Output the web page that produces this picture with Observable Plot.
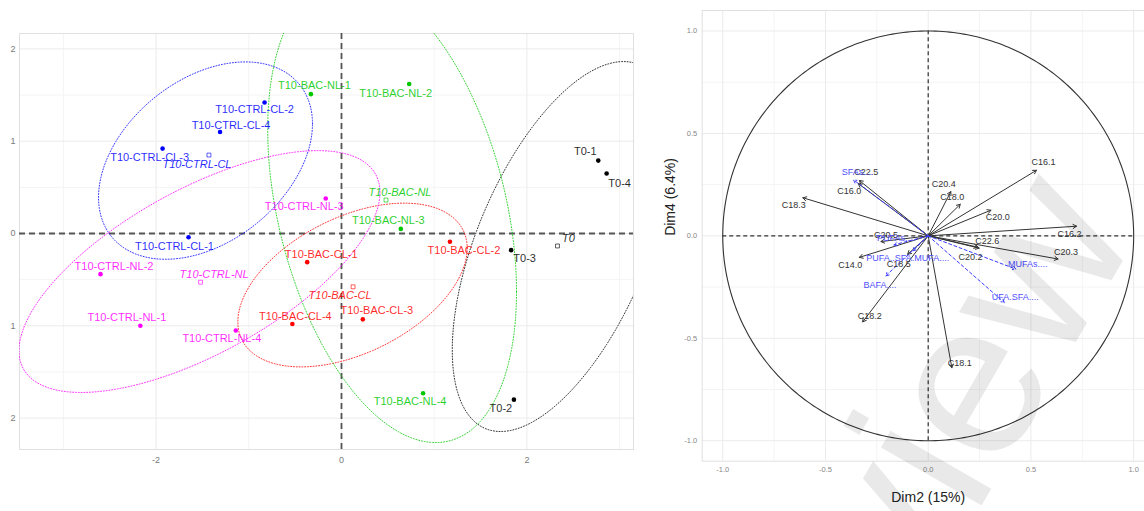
<!DOCTYPE html>
<html>
<head>
<meta charset="utf-8">
<script src="https://cdn.jsdelivr.net/npm/d3@7"></script>
<script src="https://cdn.jsdelivr.net/npm/@observablehq/plot@0.6"></script>
<style>
  html, body { margin: 0; padding: 0; background: #fff; overflow: hidden; }
  #wrap { position: relative; width: 1144px; height: 511px; overflow: hidden;
          font-family: "Liberation Sans", Arial, sans-serif; }
  #ind { position: absolute; left: 0; top: 0; width: 640px; height: 475px; }
  #var { position: absolute; left: 660px; top: 0; width: 500px; height: 511px; }
  #ind svg, #var svg { max-width: none !important; }
  #mark { position: absolute; left: 0; top: 0; pointer-events: none; }
</style>
</head>
<body>
<div id="wrap">
  <div id="ind"></div>
  <div id="var"></div>
  <svg id="mark" width="1144" height="511"></svg>
</div>
<script>
// ---------- Individuals map ----------
const groups = ["T0", "T10-BAC-CL", "T10-BAC-NL", "T10-CTRL-CL", "T10-CTRL-NL"];
const groupColors = ["#000000", "#FF0000", "#00C800", "#0000FF", "#FF00FF"];

const sampleNames = [
  "T0-1", "T0-2", "T0-3", "T0-4",
  "T10-BAC-CL-1", "T10-BAC-CL-2", "T10-BAC-CL-3", "T10-BAC-CL-4",
  "T10-BAC-NL-1", "T10-BAC-NL-2", "T10-BAC-NL-3", "T10-BAC-NL-4",
  "T10-CTRL-CL-1", "T10-CTRL-CL-2", "T10-CTRL-CL-3", "T10-CTRL-CL-4",
  "T10-CTRL-NL-1", "T10-CTRL-NL-2", "T10-CTRL-NL-3", "T10-CTRL-NL-4"
];
const sampleGroups = [
  "T0", "T0", "T0", "T0",
  "T10-BAC-CL", "T10-BAC-CL", "T10-BAC-CL", "T10-BAC-CL",
  "T10-BAC-NL", "T10-BAC-NL", "T10-BAC-NL", "T10-BAC-NL",
  "T10-CTRL-CL", "T10-CTRL-CL", "T10-CTRL-CL", "T10-CTRL-CL",
  "T10-CTRL-NL", "T10-CTRL-NL", "T10-CTRL-NL", "T10-CTRL-NL"
];
const sampleX = [2.77, 1.86, 1.83, 2.86, -0.37, 1.17, 0.23, -0.53, -0.33, 0.73, 0.64, 0.88,
                 -1.65, -0.83, -1.93, -1.31, -2.17, -2.60, -0.17, -1.14];
const sampleY = [0.79, -1.80, -0.18, 0.65, -0.31, -0.09, -0.93, -0.98, 1.51, 1.62, 0.05, -1.73,
                 -0.04, 1.42, 0.92, 1.10, -1.00, -0.44, 0.38, -1.05];

// concentration ellipses per group: centre, spreads and correlation
const ellipseCx  = [2.379, 0.119, 0.546, -1.467, -1.532];
const ellipseCy  = [-0.141, -0.558, 0.249, 0.79, -0.412];
const ellipseSx  = [1.184, 1.237, 1.342, 1.154, 1.947];
const ellipseSy  = [2.004, 0.887, 2.514, 1.069, 1.31];
const ellipseRho = [0.56, 0.45, -0.35, 0.373, 0.655];

const xTicksInd = [-2, 0, 2];
const yTicksInd = [-2, -1, 0, 1, 2];

// label placement (pixel nudges from each point)
const labelNudge = {
  "T0-1": [-13, -9], "T0-2": [-13, 8.5], "T0-3": [13.5, 8.5], "T0-4": [13, 9.5],
  "T10-BAC-CL-1": [14, -8], "T10-BAC-CL-2": [14, 8.5], "T10-BAC-CL-3": [14, -8.5], "T10-BAC-CL-4": [3, -8],
  "T10-BAC-NL-1": [3.5, -8.5], "T10-BAC-NL-2": [-13.5, 9], "T10-BAC-NL-3": [-12.5, -8.5], "T10-BAC-NL-4": [-13, 8.5],
  "T10-CTRL-CL-1": [-14, 9], "T10-CTRL-CL-2": [-10, 7.5], "T10-CTRL-CL-3": [-13, 8.5], "T10-CTRL-CL-4": [11, -7],
  "T10-CTRL-NL-1": [-13.5, -8.5], "T10-CTRL-NL-2": [13.5, -7.5], "T10-CTRL-NL-3": [-21.5, 8.5], "T10-CTRL-NL-4": [-14, 8.5],
  "T0": [11, -8], "T10-BAC-CL": [-13, 8.5], "T10-BAC-NL": [14, -8], "T10-CTRL-CL": [-12, 9], "T10-CTRL-NL": [13.5, -7.5]
};

const samples = sampleNames.map((name, i) => ({name, group: sampleGroups[i], x: sampleX[i], y: sampleY[i]}));
const centroids = groups.map(g => {
  const pts = samples.filter(d => d.group === g);
  return {name: g, group: g, x: d3.mean(pts, d => d.x), y: d3.mean(pts, d => d.y)};
});

const steps = d3.range(0, 361, 1);
const ellipsePts = groups.flatMap((g, i) => steps.map(a => {
  const t = a * Math.PI / 180;
  const r = ellipseRho[i];
  return {
    group: g,
    x: ellipseCx[i] + ellipseSx[i] * Math.cos(t),
    y: ellipseCy[i] + ellipseSy[i] * (r * Math.cos(t) + Math.sqrt(1 - r * r) * Math.sin(t))
  };
}));

const font = "'Liberation Sans', Arial, sans-serif";

const labelMarks = samples.concat(centroids).map(d => Plot.text([d], {
  x: "x", y: "y", text: "name", fill: "group", fillOpacity: 0.85,
  dx: labelNudge[d.name][0], dy: labelNudge[d.name][1],
  fontSize: 11, fontStyle: centroids.includes(d) ? "italic" : "normal"
}));

const ind = Plot.plot({
  width: 640, height: 475,
  marginLeft: 19, marginRight: 7, marginTop: 33, marginBottom: 26,
  x: {domain: [-3.4736, 3.150]},
  y: {domain: [-2.340, 2.167]},
  color: {domain: groups, range: groupColors},
  style: {fontFamily: font, background: "white"},
  marks: [
    Plot.gridX([-3, -1, 1, 3], {stroke: "#f4f4f4", strokeOpacity: 1}),
    Plot.gridY([-1.5, -0.5, 0.5, 1.5], {stroke: "#f4f4f4", strokeOpacity: 1}),
    Plot.gridX(xTicksInd, {stroke: "#ebebeb", strokeOpacity: 1}),
    Plot.gridY(yTicksInd, {stroke: "#ebebeb", strokeOpacity: 1}),
    Plot.frame({stroke: "#e0e0e0"}),
    Plot.ruleX([0], {stroke: "#555", strokeWidth: 1.8, strokeDasharray: "6,4"}),
    Plot.ruleY([0], {stroke: "#555", strokeWidth: 1.8, strokeDasharray: "6,4"}),
    Plot.line(ellipsePts, {x: "x", y: "y", z: "group", stroke: "group", strokeWidth: 1,
                           strokeOpacity: 0.8, strokeDasharray: "1,1.8", clip: true}),
    Plot.dot(samples, {x: "x", y: "y", fill: "group", r: 2.3}),
    Plot.dot(centroids, {x: "x", y: "y", stroke: "group", symbol: "square", r: 2.2,
                         fill: "white", strokeWidth: 0.9, strokeOpacity: 0.7}),
    ...labelMarks,
    Plot.axisX(xTicksInd, {tickSize: 0, tickPadding: 7, fontSize: 9, color: "#7a7a7a",
                           tickFormat: d => String(d), label: null}),
    Plot.axisY(yTicksInd, {tickSize: 0, tickPadding: 4, fontSize: 9, color: "#7a7a7a",
                           tickFormat: d => String(Math.abs(d)), label: null})
  ]
});
document.getElementById("ind").append(ind);

// ---------- Variables correlation circle ----------
const varNames = ["C14.0", "C16.0", "C16.1", "C16.2", "C18.0", "C18.1", "C18.2", "C18.3",
                  "C18.5", "C20.0", "C20.2", "C20.3", "C20.4", "C20.5", "C22.5", "C22.6"];
const varDim2 = [-0.335, -0.34, 0.527, 0.722, 0.156, 0.115, -0.319, -0.61,
                 -0.10, 0.305, 0.24, 0.632, 0.11, -0.23, -0.335, 0.248];
const varDim4 = [-0.105, 0.255, 0.32, 0.047, 0.154, -0.644, -0.42, 0.186,
                 -0.09, 0.125, -0.055, -0.113, 0.216, -0.028, 0.27, -0.06];

const supNames = ["SFAs....", "PUFAs....", "PUFA..SFA.MUFA....", "BAFA....", "MUFAs....", "UFA.SFA...."];
const supDim2 = [-0.363, -0.167, -0.075, -0.206, 0.426, 0.37];
const supDim4 = [0.273, -0.044, -0.073, -0.195, -0.162, -0.325];

const corTicks = [-1, -0.5, 0, 0.5, 1];

const varNudge = {
  "C14.0": [-9, 8], "C16.0": [-9, 7], "C16.1": [7, -8], "C16.2": [-7, 8], "C18.0": [-8, -7],
  "C18.1": [8, -5], "C18.2": [7, -6], "C18.3": [-9, 7], "C18.5": [-9, 10], "C20.0": [7, 7],
  "C20.2": [-7, 10], "C20.3": [8, -7], "C20.4": [-7, -7], "C20.5": [5, -6], "C22.5": [7, -8],
  "C22.6": [8, -7],
  "SFAs....": [4, -8], "PUFAs....": [2, -7], "PUFA..SFA.MUFA....": [-5, 7], "BAFA....": [-6, 9],
  "MUFAs....": [12, -5], "UFA.SFA....": [11, -5]
};

const active = varNames.map((name, i) => ({name, x: varDim2[i], y: varDim4[i]}));
const supplementary = supNames.map((name, i) => ({name, x: supDim2[i], y: supDim4[i]}));

const circle = d3.range(0, 361, 1).map(a => ({
  x: Math.cos(a * Math.PI / 180), y: Math.sin(a * Math.PI / 180)
}));

const varLabels = active.map(d => Plot.text([d], {
  x: "x", y: "y", text: "name", fill: "#333", fontSize: 9,
  dx: varNudge[d.name][0], dy: varNudge[d.name][1]
}));
const supLabels = supplementary.map(d => Plot.text([d], {
  x: "x", y: "y", text: "name", fill: "#5050ff", fontSize: 9,
  dx: varNudge[d.name][0], dy: varNudge[d.name][1]
}));

const vars = Plot.plot({
  width: 500, height: 511,
  marginLeft: 41.7, marginRight: 6.3, marginTop: 10, marginBottom: 50.3,
  x: {domain: [-1.1, 1.1]},
  y: {domain: [-1.1, 1.1]},
  style: {fontFamily: font, background: "white"},
  marks: [
    Plot.gridX([-0.75, -0.25, 0.25, 0.75], {stroke: "#f4f4f4", strokeOpacity: 1}),
    Plot.gridY([-0.75, -0.25, 0.25, 0.75], {stroke: "#f4f4f4", strokeOpacity: 1}),
    Plot.gridX(corTicks, {stroke: "#ebebeb", strokeOpacity: 1}),
    Plot.gridY(corTicks, {stroke: "#ebebeb", strokeOpacity: 1}),
    Plot.frame({stroke: "#e0e0e0"}),
    Plot.line(circle, {x: "x", y: "y", stroke: "#333", strokeWidth: 1.1}),
    Plot.ruleX([0], {y1: -1, y2: 1, stroke: "#333", strokeWidth: 1.2, strokeDasharray: "4,3"}),
    Plot.ruleY([0], {x1: -1, x2: 1, stroke: "#333", strokeWidth: 1.2, strokeDasharray: "4,3"}),
    Plot.arrow(active, {x1: d => 0, y1: d => 0, x2: "x", y2: "y", stroke: "#333",
                        strokeWidth: 1, headLength: 6}),
    Plot.arrow(supplementary, {x1: d => 0, y1: d => 0, x2: "x", y2: "y", stroke: "#3a3aff",
                               strokeWidth: 1, headLength: 5, strokeDasharray: "3,2.5"}),
    ...varLabels,
    ...supLabels,
    Plot.axisX(corTicks, {tickSize: 0, tickPadding: 5, fontSize: 7.5, color: "#888",
                          tickFormat: d => d.toFixed(1), label: null}),
    Plot.axisY(corTicks, {tickSize: 0, tickPadding: 5, fontSize: 7.5, color: "#888",
                          tickFormat: d => d.toFixed(1), label: null}),
    Plot.text(["Dim2 (15%)"], {frameAnchor: "bottom", dy: 40.5, fontSize: 14, fill: "#222"}),
    Plot.text(["Dim4 (6.4%)"], {frameAnchor: "left", dx: -31.7, rotate: -90, fontSize: 14, fill: "#222"})
  ]
});
document.getElementById("var").append(vars);

// ---------- faint diagonal watermark ----------
const mark = d3.select("#mark");
mark.append("text")
  .attr("x", 748).attr("y", 910)
  .attr("transform", "rotate(-60 748 910)")
  .attr("font-family", "'Liberation Sans', Arial, sans-serif")
  .attr("font-size", 220)
  .attr("fill", "#000")
  .attr("fill-opacity", 0.085)
  .text("Preview");
</script>
</body>
</html>
